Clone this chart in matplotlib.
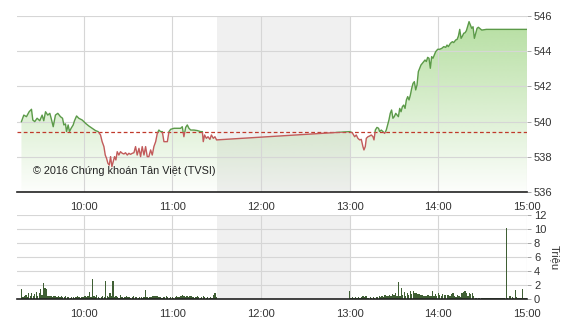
import numpy as np
import matplotlib
matplotlib.use("Agg")
from matplotlib import pyplot as plt
from matplotlib.patches import Rectangle

plt.rcParams['font.family'] = ['Liberation Sans', 'DejaVu Sans']

# price index, time in minutes after 09:00
price_min = [18, 19.6, 21.4, 23.2, 24.8, 25.7, 27.0, 28.6, 30.4, 32.0, 33.1, 34.3, 35.8, 37.2, 38.1,
             39.5, 41.0, 42.6, 44.4, 45.8, 46.7, 47.8, 48.5, 49.6, 50.5, 51.6, 53.0, 53.9, 55.3, 56.8,
             59.1, 61.4, 63.6, 65.9, 68.1, 69.9, 71.5, 72.6, 73.8, 74.7, 75.6, 76.5, 77.4, 78.3, 79.2,
             80.1, 81.0, 81.9, 82.8, 83.9, 85.0, 86.2, 87.3, 88.4, 89.6, 90.7, 91.8, 93.0, 94.1, 95.2,
             96.3, 97.5, 98.6, 99.7, 100.9, 102.0, 103.1, 104.2, 105.4, 106.5, 107.6, 108.8, 109.9,
             111.0, 112.1, 113.3, 114.4, 115.5, 116.7, 117.8, 118.9, 121.2, 123.4, 125.7, 126.8, 127.9,
             129.1, 130.2, 131.3, 132.5, 134.7, 137.0, 139.2, 140.4, 141.0, 141.9, 143.1, 144.2, 145.5,
             146.5, 147.8, 148.9, 150.0,
             240.0, 241.8, 243.4, 244.5, 245.6, 246.8, 247.9, 249.0, 249.7, 250.6, 251.3, 252.4, 253.5,
             254.7, 255.8, 256.5, 257.4, 258.5, 259.6, 260.3, 261.4, 262.6, 263.7, 264.8, 266.0, 266.6,
             267.5, 268.4, 269.3, 270.2, 271.2, 272.1, 273.0, 273.9, 274.8, 275.7, 276.6, 277.5, 278.4,
             279.3, 280.2, 281.1, 282.0, 282.9, 283.8, 284.7, 285.6, 286.5, 287.4, 288.3, 289.2, 290.1,
             291.0, 291.9, 292.8, 293.7, 294.6, 295.5, 296.4, 297.3, 298.2, 299.6, 300.9, 302.3, 303.7,
             305.0, 305.9, 306.8, 308.2, 309.5, 310.4, 311.8, 312.7, 313.6, 314.5, 315.4, 316.3, 317.2,
             318.1, 319.0, 319.9, 320.8, 321.7, 322.6, 323.5, 324.4, 325.3, 326.2, 327.1, 328.0, 329.4,
             332.5, 360.0]
price = [540.00, 540.37, 540.28, 540.56, 540.70, 540.09, 540.00, 540.19, 540.05, 540.37, 540.05, 540.56,
         540.37, 540.47, 540.19, 539.71, 540.37, 540.47, 540.28, 540.19, 539.81, 539.87, 539.43, 539.81,
         539.43, 539.62, 539.81, 540.05, 540.32, 540.19, 540.09, 539.90, 539.75, 539.62, 539.49, 539.43,
         539.24, 538.86, 538.58, 538.10, 537.91, 537.63, 537.53, 538.01, 537.44, 537.72, 538.01, 537.82,
         538.29, 538.10, 538.29, 538.20, 538.16, 538.23, 538.10, 538.20, 538.14, 538.20, 538.23, 538.58,
         538.10, 538.48, 538.01, 538.58, 538.10, 538.58, 538.01, 538.01, 538.39, 538.10, 538.58, 538.86,
         539.33, 539.52, 539.43, 539.43, 538.86, 538.86, 538.86, 539.43, 539.56, 539.62, 539.62, 539.62,
         539.71, 539.14, 539.67, 539.81, 539.62, 539.52, 539.52, 539.49, 539.43, 539.43, 538.86, 539.24,
         539.05, 539.14, 538.99, 539.24, 539.05, 539.14, 538.96,
         539.43, 539.37, 539.14, 539.24, 539.05, 538.96, 538.99, 538.58, 538.39, 538.58, 539.05, 539.14,
         539.18, 539.24, 539.14, 538.96, 539.52, 539.67, 539.62, 539.43, 539.52, 539.43, 539.33, 539.52,
         539.90, 540.09, 540.47, 540.66, 540.19, 540.28, 540.47, 540.37, 540.28, 540.75, 540.56, 540.85,
         540.94, 540.75, 541.23, 541.42, 541.23, 541.51, 541.89, 542.17, 542.27, 541.80, 542.08, 542.84,
         543.03, 543.22, 543.31, 543.41, 543.50, 543.41, 543.65, 543.60, 543.03, 543.69, 543.60, 543.78,
         543.97, 544.11, 544.11, 544.16, 544.26, 544.22, 544.35, 544.26, 544.45, 544.54, 544.49, 544.64,
         544.67, 544.86, 545.24, 544.73, 544.86, 545.02, 545.05, 545.17, 545.43, 545.68, 545.49, 545.30,
         545.39, 544.73, 545.02, 545.30, 545.36, 545.30, 545.20, 545.24, 545.24]
ref_price = 539.43

# volume (millions), one bar per minute
vol_am_start = 18
vol_am = [1.5, 0.3, 0.4, 0.6, 0.3, 0.8, 0.5, 0.9, 0.4, 0.7,
          1.0, 0.5, 0.9, 1.4, 0.6, 2.3, 1.6, 1.5, 0.5, 0.4,
          0.5, 0.3, 0.4, 0.5, 0.3, 0.4, 0.3, 0.4, 0.3, 0.3,
          0.4, 0.3, 0.3, 0.2, 0.3, 0.3, 0.2, 0.3, 0.4, 0.3,
          0.2, 0.3, 0.3, 0.4, 0.3, 0.5, 1.0, 0.3, 2.9, 0.4,
          0.3, 0.6, 0.3, 0.2, 0.3, 0.4, 0.3, 2.6, 0.4, 0.3,
          0.9, 0.4, 2.6, 0.3, 0.5, 0.3, 0.2, 0.6, 0.3, 0.2,
          0.3, 0.4, 0.3, 0.3, 0.2, 0.3, 0.4, 0.3, 0.3, 0.2,
          0.3, 0.3, 0.2, 0.3, 1.3, 0.3, 0.2, 0.3, 0.3, 0.4,
          0.4, 0.4, 0.4, 0.3, 0.3, 0.2, 0.3, 0.3, 0.4, 0.3,
          0.2, 0.3, 0.3, 0.2, 0.3, 0.4, 0.3, 0.3, 0.5, 0.6,
          0.5, 0.3, 0.4, 0.3, 0.5, 0.4, 0.3, 0.2, 0.3, 0.4,
          0.3, 0.2, 0.3, 0.4, 0.3, 0.2, 0.3, 0.2, 0.3, 0.2,
          0.6, 0.8, 0.3]
vol_pm_start = 240
vol_pm = [1.1, 0.2, 0.3, 0.2, 0.3, 0.2, 0.3, 0.2, 0.3, 0.4,
          0.3, 0.5, 0.2, 0.2, 0.3, 0.2, 0.3, 0.2, 0.3, 0.3,
          0.4, 0.3, 0.5, 0.3, 0.6, 0.4, 0.5, 0.6, 0.4, 0.7,
          0.6, 0.8, 0.5, 2.4, 0.4, 1.6, 0.6, 1.0, 0.5, 0.8,
          0.6, 1.1, 0.7, 1.2, 0.9, 0.8, 0.7, 0.7, 0.6, 0.6,
          0.5, 0.4, 0.5, 0.6, 0.4, 0.5, 1.2, 0.5, 0.7, 0.4,
          0.9, 0.6, 0.5, 0.7, 0.6, 0.6, 0.6, 0.6, 0.5, 0.7,
          0.8, 0.4, 0.3, 0.6, 0.5, 0.3, 0.8, 1.0, 1.1, 0.9,
          0.5, 0.8, 0.7, 0.8, 0.4, 0.2, 0.2, 0.1, 0.2, 0.1,
          0.1, 0.1, 0.1, 0.1, 0.1, 0.1, 0.1, 0.1, 0.1, 0.1,
          0.1, 0.1, 0.1, 0.1, 0.1, 0.1, 10.1, 0.1, 0.4, 0.5,
          0.3, 0.1, 1.3, 0.3, 0.1, 0.2, 0.1, 1.5, 0.2, 0.1,
          0.1]

hour_ticks = [60, 120, 180, 240, 300, 360]
hour_labels = ['10:00', '11:00', '12:00', '13:00', '14:00', '15:00']
price_ticks = [536, 538, 540, 542, 544, 546]
vol_ticks = [0, 2, 4, 6, 8, 10, 12]
copyright_text = '\u00a9 2016 Ch\u1ee9ng kho\u00e1n T\u00e2n Vi\u1ec7t (TVSI)'

x0, x1 = 15, 360
lunch = (150, 240)
grid_c = '#d6d6d6'
tick_c = '#333333'

fig = plt.figure(figsize=(5.7, 3.2), dpi=100)
ax = fig.add_axes([17/570, 1 - 192/320, 510/570, 176/320])
ax2 = fig.add_axes([17/570, 1 - 299/320, 510/570, 84/320])


def style_axes(a, yticks):
    a.set_xlim(x0, x1)
    a.set_ylim(yticks[0], yticks[-1])
    a.set_xticks(hour_ticks)
    a.set_xticklabels(hour_labels)
    a.set_yticks(yticks)
    a.yaxis.tick_right()
    a.tick_params(axis='x', length=0, pad=7, labelsize=8, colors=tick_c)
    a.tick_params(axis='y', length=3, width=0.6, pad=2, labelsize=8,
                  colors=tick_c, color='#999999')
    a.grid(True, color=grid_c, linewidth=0.8)
    a.set_axisbelow(True)
    for s in ['top', 'left', 'right']:
        a.spines[s].set_visible(False)
    a.spines['bottom'].set_color('#222222')
    a.spines['bottom'].set_linewidth(1.2)
    a.axvspan(lunch[0], lunch[1], color='#f0f0f0', zorder=0.1, lw=0)


style_axes(ax, price_ticks)
style_axes(ax2, vol_ticks)

# price panel: gradient fill under the line
t = np.array(price_min)
p = np.array(price)
poly = ax.fill_between(t, p, 536, facecolor='none', edgecolor='none')
n = 256
grad = np.zeros((n, 1, 4))
grad[:, 0, 0] = 130 / 255
grad[:, 0, 1] = 200 / 255
grad[:, 0, 2] = 95 / 255
grad[:, 0, 3] = np.linspace(0.02, 0.6, n)
img = ax.imshow(grad, extent=[x0, x1, 536, 546], aspect='auto',
                origin='lower', zorder=0.3, interpolation='bilinear')
img.set_clip_path(poly.get_paths()[0], transform=ax.transData)

up, = ax.plot(t, p, color='#5b9a48', lw=1.0, zorder=3)
up.set_clip_path(Rectangle((x0, ref_price), x1 - x0, 10, transform=ax.transData))
dn, = ax.plot(t, p, color='#c25b5b', lw=1.0, zorder=3)
dn.set_clip_path(Rectangle((x0, 530), x1 - x0, ref_price - 530, transform=ax.transData))

ax.axhline(ref_price, color='#c0392b', lw=0.9, ls=(0, (3, 2)), zorder=2.5)
ax.text(25.8, 537.2, copyright_text, fontsize=7.8, color='#222222',
        va='center', ha='left', zorder=4)
ax.set_xlim(x0, x1)
ax.set_ylim(536, 546)

# volume panel
am_x = np.arange(vol_am_start, vol_am_start + len(vol_am))
pm_x = np.arange(vol_pm_start, vol_pm_start + len(vol_pm))
ax2.bar(am_x, vol_am, width=0.9, color='#3f5f34', lw=0, zorder=2)
ax2.bar(pm_x, vol_pm, width=0.9, color='#3f5f34', lw=0, zorder=2)
ax2.set_xlim(x0, x1)
ax2.set_ylim(0, 12)

fig.text(555/570, 1 - 258/320, 'Tri\u1ec7u', rotation=270, fontsize=8,
         color=tick_c, ha='center', va='center')

fig.savefig('out.png', dpi=100)
